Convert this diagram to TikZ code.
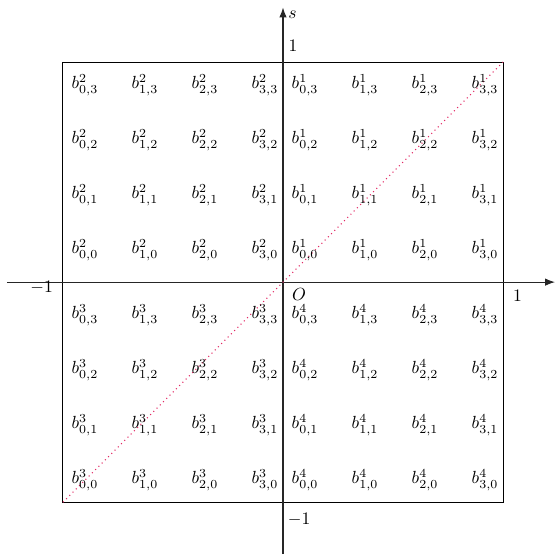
\documentclass[tikz,border=0pt]{standalone}
\usepackage{amsmath,amssymb}
\usepackage{xcolor}
\usetikzlibrary{arrows.meta}
\definecolor{diagred}{RGB}{226,40,100}

\begin{document}
\begin{tikzpicture}[
    x=4.4cm, y=4.4cm,
    axis/.style={-{Latex[length=2mm]}, semithick, black!85},
    frame/.style={semithick},
    diag/.style={dotted, semithick, draw=diagred},
    cell/.style={inner sep=0pt},
    ticklabel/.style={inner sep=0pt}
]
\useasboundingbox (-1.286,-1.236) rectangle (1.236,1.282);

\coordinate (origin) at (0,0);
\coordinate (sw) at (-1,-1);
\coordinate (ne) at (1,1);
\coordinate (xstart) at (-1.255,0);
\coordinate (xend) at (1.236,0);
\coordinate (ystart) at (0,-1.236);
\coordinate (yend) at (0,1.248);

\draw[frame] (sw) rectangle (ne);
\draw[axis] (xstart) -- (xend);
\draw[axis] (ystart) -- (yend);
\draw[diag] (sw) -- (ne);

\node[ticklabel] (slabel) at (0.043,1.214) {$s$};
\node[ticklabel] (xone) at (1.066,-0.064) {$1$};
\node[ticklabel] (xmone) at (-1.097,-0.025) {$-1$};
\node[ticklabel] (yone) at (0.045,1.073) {$1$};
\node[ticklabel] (ymone) at (0.073,-1.077) {$-1$};
\node[ticklabel] (olabel) at (0.073,-0.055) {$O$};

% the four quadrants of coefficients
\foreach \q/\dx/\dy in {1/0/0.145, 2/-1/0.145, 3/-1/-0.9, 4/0/-0.9}
  \foreach \i in {0,...,3}
    \foreach \j in {0,...,3}
      \node[cell] (b\q\i\j) at ({\dx+0.1+0.2727*\i},{\dy+0.25*\j}) {$b^{\q}_{\i,\j}$};
\end{tikzpicture}
\end{document}
